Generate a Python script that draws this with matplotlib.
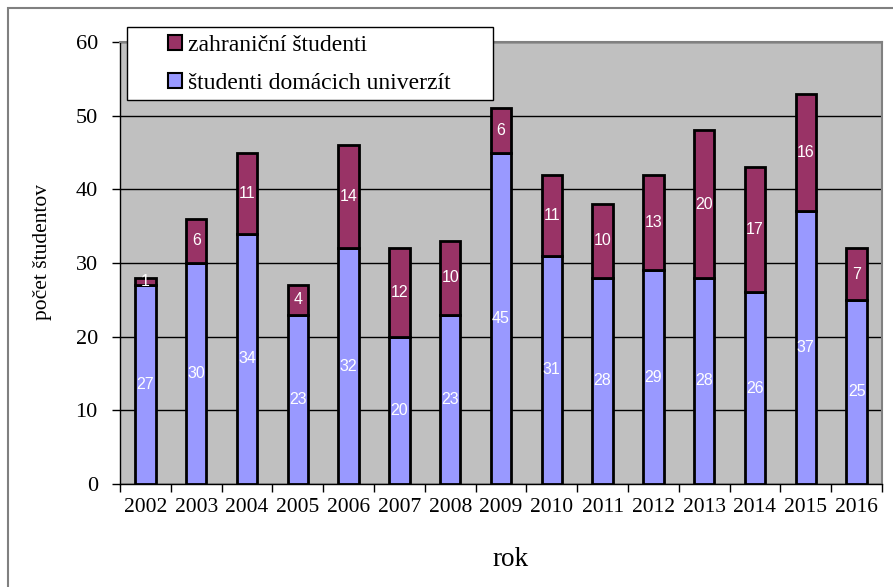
import numpy as np
import matplotlib.pyplot as plt
from matplotlib.patches import Rectangle, Patch

years = ["2002", "2003", "2004", "2005", "2006", "2007", "2008", "2009",
         "2010", "2011", "2012", "2013", "2014", "2015", "2016"]
domaci = [27, 30, 34, 23, 32, 20, 23, 45, 31, 28, 29, 28, 26, 37, 25]
zahranicni = [1, 6, 11, 4, 14, 12, 10, 6, 11, 10, 13, 20, 17, 16, 7]

serif = "Liberation Serif"
sans = "Liberation Sans"
c_dom = "#9999FF"
c_zah = "#993366"

W, H = 893, 587
fig = plt.figure(figsize=(W / 100, H / 100), dpi=100)
fig.patch.set_facecolor("white")

# outer chart border
fig.patches.append(Rectangle((8 / W, -0.1), 2.0, 1.1 - 8 / H, transform=fig.transFigure,
                             fill=False, edgecolor="#808080", lw=1.5, zorder=0))

ax = fig.add_axes([120 / W, 1 - 484 / H, 762 / W, 442 / H])
ax.set_facecolor("#C0C0C0")

x = np.arange(len(years))
b1 = ax.bar(x, domaci, width=0.4, color=c_dom, edgecolor="black", lw=2, zorder=3)
b2 = ax.bar(x, zahranicni, width=0.4, bottom=domaci, color=c_zah, edgecolor="black",
            lw=2, zorder=3)

for i in range(len(years)):
    ax.text(x[i], domaci[i] / 2, str(domaci[i]), ha="center", va="center",
            color="white", fontsize=11.5, family=sans, zorder=4)
    ax.text(x[i], domaci[i] + zahranicni[i] / 2, str(zahranicni[i]), ha="center",
            va="center", color="white", fontsize=11.5, family=sans, zorder=4)

ax.set_ylim(0, 60)
ax.set_xlim(-0.5, len(years) - 0.5)
ax.set_yticks(np.arange(0, 61, 10))
ax.yaxis.grid(True, color="black", lw=1)
ax.set_axisbelow(True)

ax.set_xticks(x)
ax.set_xticklabels(years, family=serif, fontsize=15.5)
ax.set_xticks(np.arange(-0.5, len(years), 1), minor=True)
ax.tick_params(axis="x", which="major", length=0, pad=10)
ax.tick_params(axis="x", which="minor", length=6, width=1, color="black")
ax.tick_params(axis="y", length=6, width=1, pad=10, labelsize=16)
for lab in ax.get_yticklabels():
    lab.set_family(serif)

for s in ["top", "right"]:
    ax.spines[s].set_color("#808080")
    ax.spines[s].set_linewidth(1.5)
for s in ["left", "bottom"]:
    ax.spines[s].set_color("black")
    ax.spines[s].set_linewidth(1)

fig.text(43 / W, 1 - 252 / H, "počet študentov", rotation=90, ha="center",
         va="center", family=serif, fontsize=15.5)
fig.text(511 / W, 1 - 559 / H, "rok", ha="center", va="center", family=serif,
         fontsize=19.5)

# legend box
fig.patches.append(Rectangle((127 / W, 1 - 100 / H), 366 / W, 73 / H,
                             transform=fig.transFigure, facecolor="white",
                             edgecolor="black", lw=1, zorder=5))
handles = [Patch(facecolor=c_zah, edgecolor="black", lw=1.5),
           Patch(facecolor=c_dom, edgecolor="black", lw=1.5)]
leg = fig.legend(handles, ["zahraniční študenti", "študenti domácich univerzít"],
                 loc="upper left", bbox_to_anchor=(168 / W, 1 - 35 / H),
                 frameon=False, prop={"family": serif, "size": 17},
                 handlelength=0.6, handleheight=0.6, handletextpad=0.25,
                 labelspacing=0.7, borderpad=0, borderaxespad=0)
leg.set_zorder(6)

fig.savefig("out.png", dpi=100)
